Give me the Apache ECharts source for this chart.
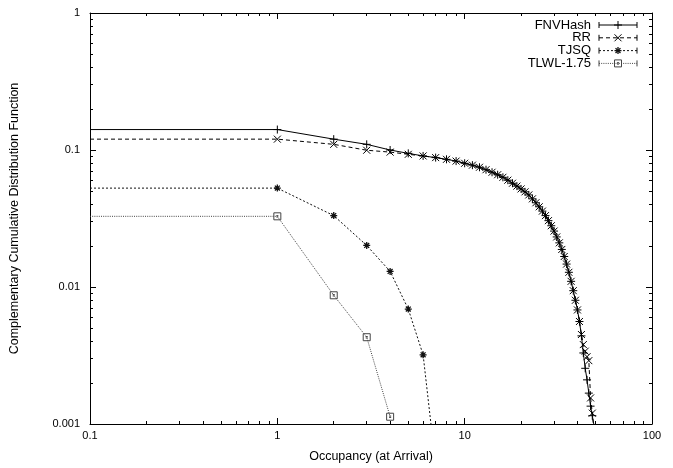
<!DOCTYPE html>
<html>
<head>
<meta charset="utf-8">
<script src="https://cdn.jsdelivr.net/npm/echarts@6/dist/echarts.min.js"></script>
<style>
html,body{margin:0;padding:0;background:#fff;}
#chart{width:673px;height:468px;}
</style>
</head>
<body>
<div id="chart"></div>
<script>
// ---------- data ----------
const seriesNames = ['FNVHash', 'RR', 'TJSQ', 'TLWL-1.75'];

const occFNV = [0,1,2,3,4,5,6,7,8,9,10,11,12,13,14,15,16,17,18,19,20,21,22,23,24,25,26,27,28,29,30,31,32,33,34,35,36,37,38,39,40,41,42,43,44,45,46,47,48,49];
const ccdfFNV = [0.141,0.141,0.120,0.110,0.100,0.0945,0.0905,0.088,0.0855,0.083,0.080,0.0775,0.0748,0.0718,0.0688,0.066,0.0632,0.0602,0.0572,0.0545,0.052,0.0495,0.047,0.044,0.0412,0.0385,0.0358,0.0332,0.0305,0.028,0.0256,0.0232,0.021,0.0188,0.0167,0.0147,0.0128,0.011,0.0094,0.008,0.0068,0.0056,0.0044,0.0033,0.00255,0.0021,0.00168,0.00135,0.00115,0.00098];

const occRR = [0,1,2,3,4,5,6,7,8,9,10,11,12,13,14,15,16,17,18,19,20,21,22,23,24,25,26,27,28,29,30,31,32,33,34,35,36,37,38,39,40,41,42,43,44,45,46,47,48,49];
const ccdfRR = [0.120,0.120,0.110,0.0996,0.0965,0.093,0.0905,0.088,0.0855,0.083,0.080,0.0775,0.0748,0.0718,0.0688,0.066,0.0632,0.0602,0.0572,0.0545,0.052,0.0495,0.047,0.044,0.0412,0.0385,0.0358,0.0332,0.0305,0.028,0.0256,0.0232,0.021,0.0188,0.0167,0.0147,0.0128,0.011,0.0094,0.008,0.0068,0.0056,0.0045,0.0038,0.0034,0.0031,0.0029,0.00155,0.0012,0.0009];

const occTJSQ = [0,1,2,3,4,5,6,7];
const ccdfTJSQ = [0.0527,0.0527,0.0332,0.0201,0.0130,0.0069,0.0032,0.0005];

const occTLWL = [0,1,2,3,4];
const ccdfTLWL = [0.0328,0.0328,0.0087,0.0043,0.00113];

const xMajorTicks = [0.1, 1, 10, 100];
const xMinorTicks = [0.2,0.3,0.4,0.5,0.6,0.7,0.8,0.9,2,3,4,5,6,7,8,9,20,30,40,50,60,70,80,90];
const yMajorTicks = [0.001, 0.01, 0.1, 1];
const yMinorTicks = [0.002,0.003,0.004,0.005,0.006,0.007,0.008,0.009,0.02,0.03,0.04,0.05,0.06,0.07,0.08,0.09,0.2,0.3,0.4,0.5,0.6,0.7,0.8,0.9];

const xTitle = 'Occupancy (at Arrival)';
const yTitle = 'Complementary Cumulative Distribution Function';

// ---------- styling ----------
const X_MIN = 0.1, X_MAX = 100, Y_MIN = 0.001, Y_MAX = 1;
const FONT = 'Liberation Sans, Arial, Helvetica, sans-serif';
// marker shapes as segments in a 10x10 box
const SEG = {
  plus: [[0,5,10,5],[5,0,5,10]],
  cross: [[0,0,10,10],[10,0,0,10]],
  star: [[0,5,10,5],[5,0,5,10],[1.5,1.5,8.5,8.5],[8.5,1.5,1.5,8.5]],
  box: [[0,0,10,0],[10,0,10,10],[10,10,0,10],[0,10,0,0],[3.5,4,6.5,4],[3.5,6,6.5,6]]
};
function segPath(segs) {
  return 'path://' + segs.map(s => 'M' + s[0] + ',' + s[1] + 'L' + s[2] + ',' + s[3]).join('');
}
const styles = [
  {seg: SEG.plus, size: 8, color: '#000', dash: 'solid', mw: 1},
  {seg: SEG.cross, size: 7, color: '#000', dash: [4,3], mw: 1},
  {seg: SEG.star, size: 7, color: '#111', dash: [2,2], mw: 1.3},
  {seg: SEG.box, size: 7, color: '#444', dash: [1,1.2], mw: 1}
];

function toPoints(occ, vals) {
  // occupancy 0 cannot be shown on a log axis: pinned to the axis minimum (no marker)
  return occ.map((o, i) => {
    if (o <= 0) return {value: [X_MIN, vals[i]], symbol: 'none'};
    return [o, vals[i]];
  });
}
const datasets = [
  toPoints(occFNV, ccdfFNV),
  toPoints(occRR, ccdfRR),
  toPoints(occTJSQ, ccdfTJSQ),
  toPoints(occTLWL, ccdfTLWL)
];

const chart = echarts.init(document.getElementById('chart'), null, {renderer: 'canvas'});

const gridRect = {left: 87, right: 21, top: 13, bottom: 42};
const tickTxt = {color: '#000', fontFamily: FONT, fontSize: 11};
const nameTxt = {color: '#000', fontFamily: FONT, fontSize: 12.5};

function xAx(pos, minor, labels, extra) {
  return Object.assign({
    type: 'log', logBase: 10, min: X_MIN, max: X_MAX, position: pos,
    axisLine: {show: !minor, lineStyle: {color: '#000', width: 1}},
    axisTick: {show: true, inside: true, length: minor ? 3 : 6, lineStyle: {color: '#000', width: 1},
               customValues: minor ? xMinorTicks : xMajorTicks},
    axisLabel: Object.assign({show: labels, margin: 6, customValues: xMajorTicks, formatter: v => String(+v)}, tickTxt),
    minorTick: {show: false}, splitLine: {show: false}
  }, extra || {});
}
function yAx(pos, minor, labels, extra) {
  return Object.assign({
    type: 'log', logBase: 10, min: Y_MIN, max: Y_MAX, position: pos,
    axisLine: {show: !minor, lineStyle: {color: '#000', width: 1}},
    axisTick: {show: true, inside: true, length: minor ? 3 : 6, lineStyle: {color: '#000', width: 1},
               customValues: minor ? yMinorTicks : yMajorTicks},
    axisLabel: Object.assign({show: labels, margin: 10, customValues: yMajorTicks, formatter: v => String(+v)}, tickTxt),
    minorTick: {show: false}, splitLine: {show: false}
  }, extra || {});
}

const series = seriesNames.map((name, i) => ({
  name: name,
  type: 'line',
  xAxisIndex: 0, yAxisIndex: 0,
  data: datasets[i],
  symbol: segPath(styles[i].seg),
  symbolSize: styles[i].size,
  showAllSymbol: true,
  animation: false,
  clip: true,
  lineStyle: {color: styles[i].color, width: 1, type: styles[i].dash},
  itemStyle: {color: 'none', borderColor: styles[i].color, borderWidth: styles[i].mw},
  emphasis: {disabled: true},
  z: 10 - i
}));

// legend drawn as graphics (text right-aligned, sample line with marker)
const legendRight = 591, sampleL = 599, sampleR = 637, row0 = 25, rowH = 12.8;
const graphics = [];
seriesNames.forEach((name, i) => {
  const y = row0 + i * rowH;
  const st = styles[i];
  graphics.push({type: 'text', x: legendRight, y: y, style: {text: name, fill: '#000', font: '13px ' + FONT, textAlign: 'right', textVerticalAlign: 'middle'}});
  graphics.push({type: 'line', shape: {x1: sampleL, y1: y, x2: sampleR, y2: y}, style: {stroke: st.color, lineWidth: 1, lineDash: st.dash === 'solid' ? null : st.dash}});
  graphics.push({type: 'line', shape: {x1: sampleL, y1: y - 3, x2: sampleL, y2: y + 3}, style: {stroke: st.color, lineWidth: 1}});
  graphics.push({type: 'line', shape: {x1: sampleR, y1: y - 3, x2: sampleR, y2: y + 3}, style: {stroke: st.color, lineWidth: 1}});
  const s = st.size, cx = (sampleL + sampleR) / 2 - s / 2, cy = y - s / 2;
  st.seg.forEach(g => {
    graphics.push({type: 'line', shape: {x1: cx + g[0] * s / 10, y1: cy + g[1] * s / 10, x2: cx + g[2] * s / 10, y2: cy + g[3] * s / 10},
      style: {stroke: st.color, lineWidth: st.mw}});
  });
});

chart.setOption({
  animation: false,
  backgroundColor: '#fff',
  grid: Object.assign({show: false, containLabel: false}, gridRect),
  xAxis: [
    xAx('bottom', false, true, {name: xTitle, nameLocation: 'middle', nameGap: 26, nameTextStyle: nameTxt}),
    xAx('bottom', true, false),
    xAx('top', false, false),
    xAx('top', true, false)
  ],
  yAxis: [
    yAx('left', false, true, {name: yTitle, nameLocation: 'middle', nameGap: 69, nameTextStyle: nameTxt}),
    yAx('left', true, false),
    yAx('right', false, false),
    yAx('right', true, false)
  ],
  series: series,
  graphic: graphics
});
</script>
</body>
</html>
